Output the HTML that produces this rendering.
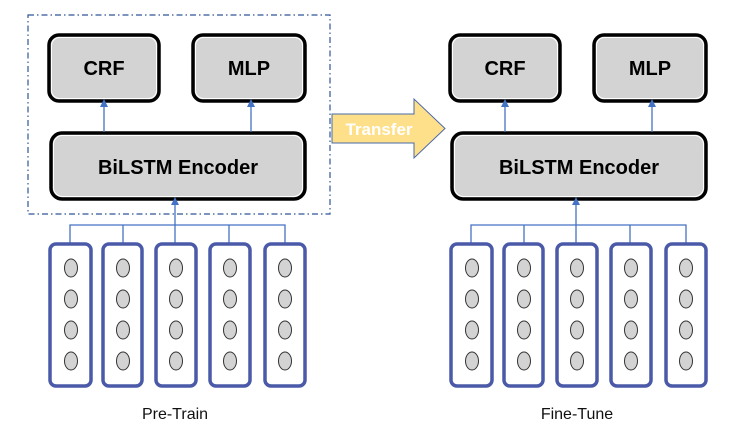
<!DOCTYPE html>
<html><head><meta charset="utf-8"><style>html,body{margin:0;padding:0;background:#fff}svg{display:block}</style></head><body>
<svg width="755" height="444" viewBox="0 0 755 444" xmlns="http://www.w3.org/2000/svg" font-family="Liberation Sans, sans-serif">
<rect x="28" y="15" width="302" height="199" fill="none" stroke="#2F5597" stroke-width="1.2" stroke-dasharray="6,3,1.5,3"/>
<g id="L">
<rect x="49" y="35" width="110" height="66" rx="10" fill="#D3D3D3" stroke="#000" stroke-width="3.5"/>
<rect x="51.5" y="37.5" width="105" height="61" rx="8" fill="none" stroke="#fff" stroke-width="1"/>
<text x="104" y="75" text-anchor="middle" font-size="20" font-weight="bold">CRF</text>
<rect x="193" y="35" width="112" height="66" rx="10" fill="#D3D3D3" stroke="#000" stroke-width="3.5"/>
<rect x="195.5" y="37.5" width="107" height="61" rx="8" fill="none" stroke="#fff" stroke-width="1"/>
<text x="249" y="75" text-anchor="middle" font-size="20" font-weight="bold">MLP</text>
<rect x="51" y="133" width="254" height="66" rx="11" fill="#D3D3D3" stroke="#000" stroke-width="3.5"/>
<rect x="53.5" y="135.5" width="249" height="61" rx="9" fill="none" stroke="#fff" stroke-width="1"/>
<text x="178" y="174" text-anchor="middle" font-size="20" font-weight="bold">BiLSTM Encoder</text>
<g stroke="#4472C4" stroke-width="1.3" fill="none">
<line x1="104" y1="132" x2="104" y2="104"/>
<line x1="251" y1="132" x2="251" y2="104"/>
<line x1="175" y1="243" x2="175" y2="202"/>
<polyline points="70,243 70,225 285,225 285,243"/>
<line x1="123" y1="225" x2="123" y2="243"/>
<line x1="229" y1="225" x2="229" y2="243"/>
</g>
<g fill="#4472C4">
<path d="M100,107 L104,99 L108,107 Z"/>
<path d="M247,107 L251,99 L255,107 Z"/>
<path d="M171,205 L175,197 L179,205 Z"/>
</g>
<g fill="none" stroke="#4A5AA8" stroke-width="3.5">
<rect x="50" y="244" width="41" height="142" rx="6"/>
<rect x="103" y="244" width="39" height="142" rx="6"/>
<rect x="156" y="244" width="40" height="142" rx="6"/>
<rect x="210" y="244" width="40" height="142" rx="6"/>
<rect x="265" y="244" width="40" height="142" rx="6"/>
</g>
<g fill="none" stroke="#fff" stroke-width="1">
<rect x="53" y="247" width="35" height="136" rx="4"/>
<rect x="106" y="247" width="33" height="136" rx="4"/>
<rect x="159" y="247" width="34" height="136" rx="4"/>
<rect x="213" y="247" width="34" height="136" rx="4"/>
<rect x="268" y="247" width="34" height="136" rx="4"/>
</g>
<g fill="#D3D3D3" stroke="#333" stroke-width="1">
<ellipse cx="71" cy="268" rx="6.5" ry="9"/><ellipse cx="71" cy="299" rx="6.5" ry="9"/><ellipse cx="71" cy="330" rx="6.5" ry="9"/><ellipse cx="71" cy="361" rx="6.5" ry="9"/>
<ellipse cx="123" cy="268" rx="6.5" ry="9"/><ellipse cx="123" cy="299" rx="6.5" ry="9"/><ellipse cx="123" cy="330" rx="6.5" ry="9"/><ellipse cx="123" cy="361" rx="6.5" ry="9"/>
<ellipse cx="176" cy="268" rx="6.5" ry="9"/><ellipse cx="176" cy="299" rx="6.5" ry="9"/><ellipse cx="176" cy="330" rx="6.5" ry="9"/><ellipse cx="176" cy="361" rx="6.5" ry="9"/>
<ellipse cx="230" cy="268" rx="6.5" ry="9"/><ellipse cx="230" cy="299" rx="6.5" ry="9"/><ellipse cx="230" cy="330" rx="6.5" ry="9"/><ellipse cx="230" cy="361" rx="6.5" ry="9"/>
<ellipse cx="285" cy="268" rx="6.5" ry="9"/><ellipse cx="285" cy="299" rx="6.5" ry="9"/><ellipse cx="285" cy="330" rx="6.5" ry="9"/><ellipse cx="285" cy="361" rx="6.5" ry="9"/>
</g>
</g>
<use href="#L" transform="translate(401,0)"/>
<text x="175" y="419" text-anchor="middle" font-size="16" fill="#111">Pre-Train</text>
<text x="577" y="419" text-anchor="middle" font-size="16" fill="#111">Fine-Tune</text>
<path d="M332,114 L414,114 L414,99 L445,128.5 L414,158 L414,143 L332,143 Z" fill="#FFE08A" stroke="#4A68A8" stroke-width="1"/>
<text x="379" y="135" text-anchor="middle" font-size="17" font-weight="bold" fill="#fff">Transfer</text>
</svg>
</body></html>
